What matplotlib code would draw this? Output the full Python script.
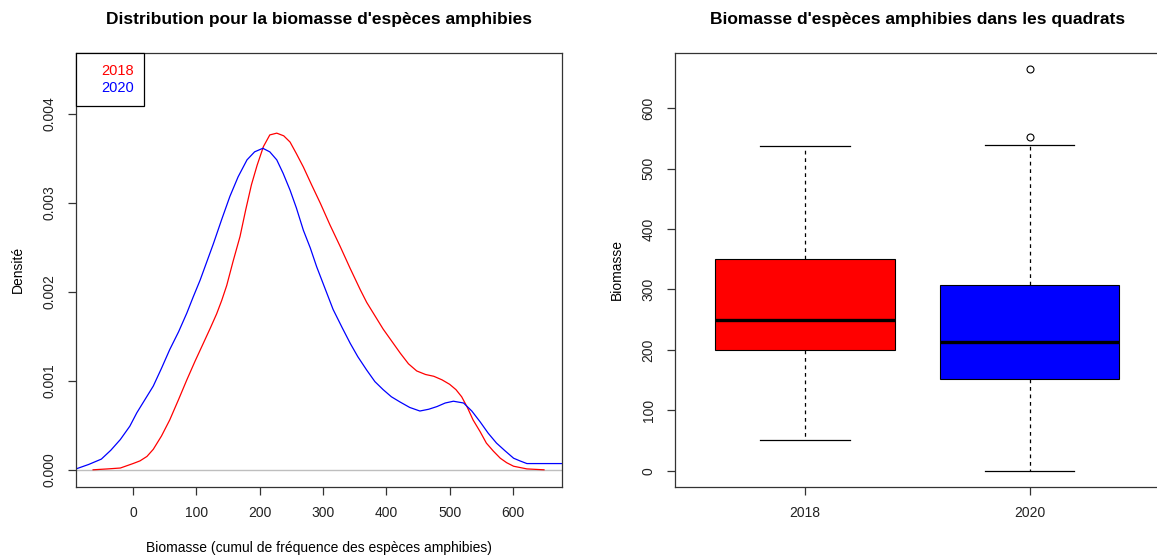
import matplotlib.pyplot as plt
from matplotlib.lines import Line2D

plt.rcParams['font.family'] = ['Liberation Sans', 'DejaVu Sans']

# density curves (x = biomasse, y = densite)
x_2018 = [-63, -40, -20, 0, 11, 22, 32, 45, 58, 72, 85, 98, 111, 122, 132, 140, 148,
          158, 169, 178, 187, 196, 206, 216, 227, 238, 248, 258, 269, 282, 296, 311,
          327, 343, 359, 369, 395, 422, 435, 448, 462, 475, 488, 500, 510, 519, 528,
          537, 548, 558, 569, 580, 590, 601, 622, 649]
d_2018 = [0.0, 0.00001, 0.00002, 0.00007, 0.0001, 0.00015, 0.00023, 0.00038, 0.00056,
          0.00079, 0.00101, 0.00122, 0.00142, 0.00159, 0.00175, 0.0019, 0.00207,
          0.00234, 0.00262, 0.00292, 0.0032, 0.00342, 0.00363, 0.00376, 0.00378,
          0.00375, 0.00368, 0.00355, 0.0034, 0.0032, 0.00299, 0.00275, 0.00251,
          0.00226, 0.00202, 0.00188, 0.00158, 0.00131, 0.00119, 0.00111, 0.00107,
          0.00105, 0.00101, 0.00096, 0.0009, 0.00082, 0.0007, 0.00056, 0.00043, 0.0003,
          0.00021, 0.00013, 0.00008, 0.00004, 0.00001, 0.0]

x_2020 = [-90, -70, -50, -35, -20, -5, 6, 19, 32, 45, 58, 72, 85, 95, 106, 127, 140,
          153, 166, 180, 192, 205, 216, 227, 237, 248, 258, 269, 280, 290, 316, 330,
          343, 355, 369, 382, 395, 408, 422, 437, 453, 467, 480, 493, 506, 522, 535,
          548, 561, 574, 588, 601, 611, 622, 677]
d_2020 = [0.00001, 0.00006, 0.00012, 0.00022, 0.00034, 0.00049, 0.00064, 0.00079,
          0.00094, 0.00114, 0.00135, 0.00155, 0.00176, 0.00194, 0.00213, 0.00254,
          0.00281, 0.00307, 0.00329, 0.00348, 0.00357, 0.00361, 0.00357, 0.00348,
          0.00333, 0.00314, 0.00294, 0.00269, 0.00249, 0.00228, 0.0018, 0.0016,
          0.00142, 0.00127, 0.00112, 0.00099, 0.0009, 0.00082, 0.00076, 0.0007,
          0.00066, 0.00068, 0.00071, 0.00075, 0.00077, 0.00075, 0.00066, 0.00054,
          0.00041, 0.0003, 0.00021, 0.00013, 0.0001, 0.00007, 0.00007]

# boxplot summary per year
years = ['2018', '2020']
box_colors = ['#FF0000', '#0000FF']
q1 = [200, 151]
med = [250, 213]
q3 = [350, 307]
whis_lo = [50, 0]
whis_hi = [538, 540]
outliers = [[], [552, 665]]

fig = plt.figure(figsize=(11.57, 5.59), dpi=100)
ax1 = fig.add_axes([0.0657, 0.1293, 0.4198, 0.7759])
ax2 = fig.add_axes([0.5834, 0.1293, 0.4190, 0.7759])

title_kw = dict(fontsize=12.5, fontweight='bold', pad=21)

# left: density curves
ax1.axhline(0, color='#BEBEBE', lw=1)
ax1.plot(x_2018, d_2018, color='#FF0000', lw=0.9)
ax1.plot(x_2020, d_2020, color='#0000FF', lw=0.9)
ax1.set_xlim(-90, 677)
ax1.set_ylim(-0.00019, 0.00468)
ax1.set_xticks([0, 100, 200, 300, 400, 500, 600])
ax1.set_yticks([0.0, 0.001, 0.002, 0.003, 0.004])
ax1.set_yticklabels(['0.000', '0.001', '0.002', '0.003', '0.004'], va='center')
ax1.set_title("Distribution pour la biomasse d'espèces amphibies", **title_kw)
ax1.set_xlabel('Biomasse (cumul de fréquence des espèces amphibies)', fontsize=10, labelpad=15)
ax1.set_ylabel('Densité', fontsize=10, labelpad=13)

handles = [Line2D([], [], color='none') for _ in years]
leg = ax1.legend(handles, years, loc='upper left', borderaxespad=0, fancybox=False,
                 framealpha=1, edgecolor='black', fontsize=10.5, labelcolor=box_colors,
                 handlelength=0.7, handletextpad=0.25, borderpad=0.75, labelspacing=0.2)
leg.get_frame().set_linewidth(0.9)

# right: boxplots
stats = []
for i, y in enumerate(years):
    stats.append(dict(label=y, q1=q1[i], med=med[i], q3=q3[i],
                      whislo=whis_lo[i], whishi=whis_hi[i], fliers=outliers[i]))
bp = ax2.bxp(stats, positions=[1, 2], widths=0.8, capwidths=0.4, patch_artist=True,
             boxprops=dict(edgecolor='black', linewidth=0.8),
             medianprops=dict(color='black', linewidth=2.4),
             whiskerprops=dict(color='black', linewidth=0.9, linestyle=(0, (3, 3))),
             capprops=dict(color='black', linewidth=0.9),
             flierprops=dict(marker='o', markerfacecolor='none', markeredgecolor='black',
                             markersize=5, markeredgewidth=0.8))
for patch, c in zip(bp['boxes'], box_colors):
    patch.set_facecolor(c)
ax2.set_xlim(0.42, 2.58)
ax2.set_ylim(-26.6, 691.6)
ax2.set_yticks([0, 100, 200, 300, 400, 500, 600])
ax2.set_yticklabels(['0', '100', '200', '300', '400', '500', '600'], va='center')
ax2.set_title("Biomasse d'espèces amphibies dans les quadrats", **title_kw)
ax2.set_ylabel('Biomasse', fontsize=10, labelpad=13)

for ax in (ax1, ax2):
    for s in ax.spines.values():
        s.set_linewidth(0.9)
        s.set_color('#333333')
    ax.tick_params(axis='both', length=6, width=0.9, color='#333333', labelsize=10,
                   pad=8, labelcolor='#222222')
    ax.tick_params(axis='y', labelrotation=90)

fig.savefig('out.png', dpi=100)
